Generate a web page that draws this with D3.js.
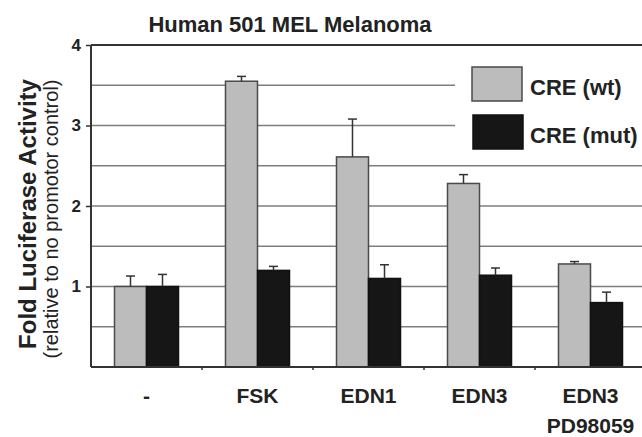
<!DOCTYPE html>
<html>
<head>
<meta charset="utf-8">
<script src="https://cdn.jsdelivr.net/npm/d3@7"></script>
<style>
  body { margin: 0; background: #fff; }
  svg { display: block; font-family: "Liberation Sans", Arial, sans-serif; }
</style>
</head>
<body>
<svg id="chart" width="642" height="437"></svg>
<script>
// Data
const categories = ["-", "FSK", "EDN1", "EDN3", "EDN3+PD"];
const categoryLabels = [["-"], ["FSK"], ["EDN1"], ["EDN3"], ["EDN3", "PD98059"]];
const seriesNames = ["CRE (wt)", "CRE (mut)"];
const wtValues = [1.0, 3.55, 2.61, 2.28, 1.28];
const wtErrors = [0.13, 0.06, 0.47, 0.11, 0.03];
const mutValues = [1.0, 1.2, 1.1, 1.14, 0.8];
const mutErrors = [0.15, 0.05, 0.17, 0.09, 0.13];
const yTicks = [1, 2, 3, 4];
const gridValues = [0.5, 1, 1.5, 2, 2.5, 3, 3.5];

const colors = { "CRE (wt)": "#bcbcbc", "CRE (mut)": "#161616" };
const strokes = { "CRE (wt)": "#4a4a4a", "CRE (mut)": "#111" };

const svg = d3.select("#chart");
const plotLeft = 91, plotRight = 646, plotTop = 45, plotBottom = 367;

const x = d3.scaleBand().domain(categories).range([plotLeft, plotRight]).padding(0);
const xSub = d3.scaleBand().domain(seriesNames).range([0, x.bandwidth()])
  .paddingInner(0).paddingOuter(0.734);
const y = d3.scaleLinear().domain([0, 4]).range([plotBottom, plotTop]);

const rows = [];
categories.forEach((c, i) => {
  rows.push({ cat: c, s: seriesNames[0], v: wtValues[i], e: wtErrors[i] });
  rows.push({ cat: c, s: seriesNames[1], v: mutValues[i], e: mutErrors[i] });
});

// gridlines
svg.append("g").selectAll("line").data(gridValues).join("line")
  .attr("x1", plotLeft).attr("x2", 642)
  .attr("y1", d => y(d)).attr("y2", d => y(d))
  .attr("stroke", "#7e7e7e").attr("stroke-width", 1.5);

// top frame line
svg.append("line")
  .attr("x1", plotLeft).attr("x2", 642).attr("y1", y(4)).attr("y2", y(4))
  .attr("stroke", "#333").attr("stroke-width", 2);

// legend background hides grid
svg.append("rect").attr("x", 455).attr("y", 52).attr("width", 190).attr("height", 105)
  .attr("fill", "#fff");

// bars
svg.append("g").selectAll("rect").data(rows).join("rect")
  .attr("x", d => x(d.cat) + xSub(d.s))
  .attr("width", xSub.bandwidth())
  .attr("y", d => y(d.v))
  .attr("height", d => y(0) - y(d.v))
  .attr("fill", d => colors[d.s])
  .attr("stroke", d => strokes[d.s])
  .attr("stroke-width", 1.5);

// error bars (upper only)
const err = svg.append("g").attr("stroke", "#333").attr("stroke-width", 1.5);
rows.forEach(d => {
  const cx = x(d.cat) + xSub(d.s) + xSub.bandwidth() / 2;
  err.append("line").attr("x1", cx).attr("x2", cx)
    .attr("y1", y(d.v)).attr("y2", y(d.v + d.e));
  err.append("line").attr("x1", cx - 4.5).attr("x2", cx + 4.5)
    .attr("y1", y(d.v + d.e)).attr("y2", y(d.v + d.e));
});

// y axis
const yAxis = svg.append("g").attr("transform", `translate(${plotLeft},0)`)
  .call(d3.axisLeft(y).tickValues(yTicks).tickSize(5).tickPadding(5).tickFormat(d3.format("d")));
yAxis.select(".domain").attr("stroke", "#333").attr("stroke-width", 2)
  .attr("d", `M0,${plotTop}V${plotBottom}`);
yAxis.selectAll(".tick line").attr("stroke", "#333").attr("stroke-width", 1.5);
yAxis.selectAll(".tick text").attr("font-size", 17).attr("font-weight", "bold")
  .attr("fill", "#222").attr("font-family", "Liberation Sans, Arial, sans-serif");

// x axis: small ticks between groups
svg.append("line").attr("x1", plotLeft).attr("x2", 642).attr("y1", plotBottom).attr("y2", plotBottom)
  .attr("stroke", "#333").attr("stroke-width", 2);
svg.append("g").selectAll("line").data(categories.slice(1)).join("line")
  .attr("x1", d => x(d)).attr("x2", d => x(d))
  .attr("y1", plotBottom).attr("y2", plotBottom + 3)
  .attr("stroke", "#333").attr("stroke-width", 1.5);

// x labels
const xl = svg.append("g").attr("font-size", 21).attr("font-weight", "bold")
  .attr("fill", "#222").attr("text-anchor", "middle");
categories.forEach((c, i) => {
  categoryLabels[i].forEach((t, j) => {
    xl.append("text").attr("x", x(c) + x.bandwidth() / 2).attr("y", 403 + j * 30).text(t);
  });
});

// title
svg.append("text").attr("x", 290).attr("y", 32).attr("text-anchor", "middle")
  .attr("font-size", 22).attr("font-weight", "bold").attr("fill", "#222")
  .text("Human 501 MEL Melanoma");

// y axis title
svg.append("text").attr("transform", "translate(36,214) rotate(-90)")
  .attr("text-anchor", "middle").attr("font-size", 24).attr("font-weight", "bold")
  .attr("fill", "#222").text("Fold Luciferase Activity");
svg.append("text").attr("transform", "translate(58,219) rotate(-90)")
  .attr("text-anchor", "middle").attr("font-size", 20)
  .attr("fill", "#222").text("(relative to no promotor control)");

// legend
const leg = svg.append("g");
seriesNames.forEach((s, i) => {
  leg.append("rect").attr("x", 472 + i).attr("y", 67 + i * 48).attr("width", 50).attr("height", 34)
    .attr("fill", colors[s]).attr("stroke", strokes[s]).attr("stroke-width", 1.5);
  leg.append("text").attr("x", 530).attr("y", 95 + i * 48)
    .attr("font-size", 22).attr("font-weight", "bold").attr("fill", "#222").text(s);
});
</script>
</body>
</html>
